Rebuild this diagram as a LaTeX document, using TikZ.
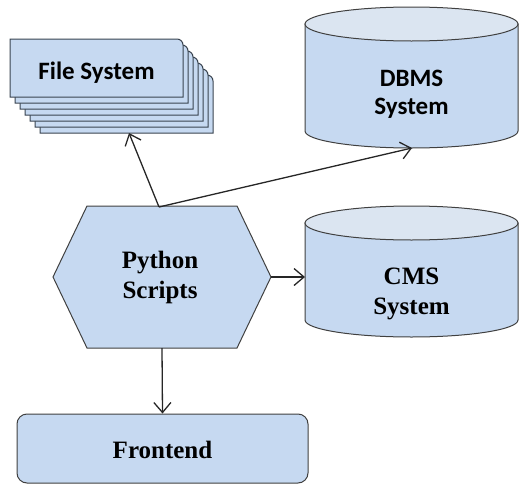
\documentclass[tikz,border=0pt]{standalone}
\usepackage{fontspec}
\setmainfont{Liberation Serif}
\newfontfamily\calib{Carlito}
\usetikzlibrary{arrows.meta}
\definecolor{boxfill}{HTML}{C6D9F1}
\definecolor{topfill}{HTML}{DBE5F1}
\definecolor{edgecol}{HTML}{404040}
\definecolor{stackedge}{HTML}{3A4450}
\tikzset{
  shapeline/.style={draw=edgecol, line width=1pt, fill=boxfill},
  arr/.style={draw=black!85, line width=1.3pt, -{Straight Barb[length=10pt,width=17pt,line width=1.3pt]}},
  serlabel/.style={font=\fontsize{25}{30}\selectfont\bfseries, align=center, inner sep=0pt},
  sanlabel/.style={font=\calib\fontsize{25}{28}\selectfont\bfseries, align=center, inner sep=0pt},
}
\begin{document}
\begin{tikzpicture}[x=1pt,y=-1pt]
\useasboundingbox (0,0) rectangle (520,485);
% File System stack
\foreach \k in {6,5,...,0}{
  \begin{scope}[shift={(5*\k,6*\k)}]
    \path[shapeline, draw=stackedge] (10,97) -- (10,39) -- (177,39)
      .. controls (180.3,39) and (183,41.7) .. (183,45) -- (183,97) -- cycle;
  \end{scope}
}
\node[sanlabel] (fs) at (96.5,73) {File System};
\coordinate (fsB) at (129,133);

% DBMS cylinder
\path[shapeline] (305,24) -- (305,131) .. controls (305,140.39) and (352.68,148) .. (411.5,148)
  .. controls (470.32,148) and (518,140.39) .. (518,131) -- (518,24) -- cycle;
\path[shapeline, fill=topfill] (411.5,24) ellipse [x radius=106.5, y radius=17];
\node[sanlabel] (dbms) at (411.5,94) {DBMS\\System};
\coordinate (dbB) at (412,148);

% CMS cylinder
\path[shapeline] (305,223) -- (305,320) .. controls (305,329.39) and (352.68,337) .. (411.5,337)
  .. controls (470.32,337) and (518,329.39) .. (518,320) -- (518,223) -- cycle;
\path[shapeline, fill=topfill] (411.5,223) ellipse [x radius=106.5, y radius=17];
\node[serlabel] (cms) at (411.5,294) {CMS\\System};
\coordinate (cmsL) at (305,277);

% Python Scripts hexagon
\path[shapeline] (87,206) -- (237,206) -- (271,277) -- (237,348) -- (87,348) -- (53,277) -- cycle;
\node[serlabel] (py) at (160,277) {Python\\Scripts};
\coordinate (pyT) at (159,207);
\coordinate (pyR) at (271,277);
\coordinate (pyB) at (162,348);

% Frontend
\node[shapeline, rounded corners=10pt, minimum width=291pt, minimum height=69pt, inner sep=0pt] (fe) at (162.5,448.5) {};
\node[serlabel] (fetext) at (162.5,450) {Frontend};

% connectors
\draw[arr] (pyT) -- (fsB);
\draw[arr] (pyT) -- (dbB);
\draw[arr] (pyR) -- (cmsL);
\draw[arr] (pyB) -- (fe.north);
\end{tikzpicture}
\end{document}
